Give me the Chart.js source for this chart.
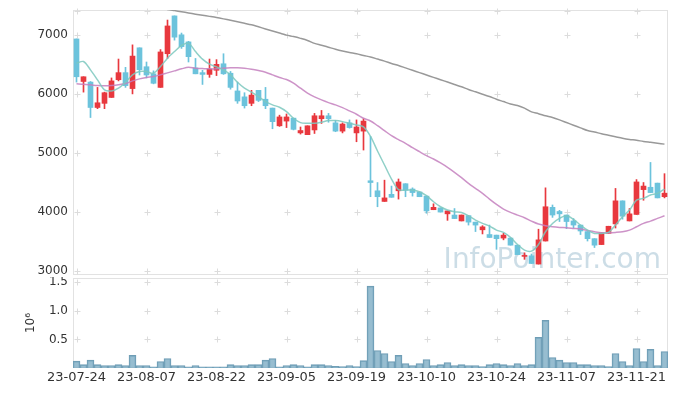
<!DOCTYPE html>
<html>
<head>
<meta charset="utf-8">
<script src="https://cdn.jsdelivr.net/npm/chart.js@4.4.1/dist/chart.umd.min.js"></script>
<style>
  body { margin: 0; background: #fff; }
  #wrap { position: relative; width: 677px; height: 396px; }
  canvas { position: absolute; left: 0; }
  #precio { top: 0; }
  #volumen { top: 277px; }
</style>
</head>
<body>
<div id="wrap">
  <canvas id="precio" width="677" height="276"></canvas>
  <canvas id="volumen" width="677" height="119"></canvas>
</div>
<script>
const fechas = [
  '23-07-24','23-07-25','23-07-26','23-07-27','23-07-28','23-07-31',
  '23-08-01','23-08-02','23-08-03','23-08-04','23-08-07','23-08-08','23-08-09','23-08-10','23-08-11',
  '23-08-14','23-08-16','23-08-17','23-08-18','23-08-21','23-08-22','23-08-23','23-08-24','23-08-25',
  '23-08-28','23-08-29','23-08-30','23-08-31','23-09-01','23-09-04','23-09-05','23-09-06','23-09-07',
  '23-09-08','23-09-11','23-09-12','23-09-13','23-09-14','23-09-15','23-09-18','23-09-19','23-09-20',
  '23-09-21','23-09-22','23-09-25','23-09-26','23-09-27','23-10-04','23-10-05','23-10-06','23-10-10',
  '23-10-11','23-10-12','23-10-13','23-10-16','23-10-17','23-10-18','23-10-19','23-10-20','23-10-23',
  '23-10-24','23-10-25','23-10-26','23-10-27','23-10-30','23-10-31','23-11-01','23-11-02','23-11-03',
  '23-11-06','23-11-07','23-11-08','23-11-09','23-11-10','23-11-13','23-11-14','23-11-15','23-11-16',
  '23-11-17','23-11-20','23-11-21','23-11-22','23-11-23','23-11-24','23-11-27'
];

const apertura = [6930,6210,6200,5770,5840,5940,6240,6360,6090,6780,6460,6340,6110,6680,7320,7000,6880,6440,6360,6330,
  6400,6510,6350,6050,5950,5840,6060,5910,5760,5460,5540,5590,5340,5310,5390,5580,5630,5510,5370,5510,
  5340,5370,4530,4360,4180,4300,4360,4480,4390,4340,4270,4040,4070,3970,3950,3850,3940,3830,3700,3620,
  3610,3560,3560,3440,3250,3260,3120,3510,4080,4010,3950,3850,3780,3670,3550,3450,3640,3800,4190,3850,
  3960,4380,4420,4490,4260];
const maximo = [6930,6290,6210,6110,6030,6270,6590,6450,6830,6780,6540,6390,6750,7250,7320,7030,6890,6600,6400,6590,
  6580,6680,6380,6200,6020,6060,6060,6110,5760,5640,5660,5590,5440,5460,5670,5720,5670,5550,5510,5560,
  5560,5580,5280,4500,4540,4440,4560,4480,4410,4340,4270,4140,4070,4020,4060,3950,3940,3830,3770,3780,
  3610,3640,3560,3440,3310,3290,3710,4410,4120,4030,3950,3890,3780,3670,3550,3650,3760,4400,4190,4060,
  4550,4500,4840,4490,4650];
const minimo = [6200,6030,5600,5750,5750,5940,6220,6110,6000,6320,6270,6170,6110,6600,6910,6770,6540,6340,6160,6280,
  6310,6330,6080,5840,5760,5800,5870,5750,5410,5450,5430,5390,5320,5310,5330,5500,5520,5360,5340,5420,
  5190,5050,4260,4090,4180,4250,4220,4260,4270,4260,3980,4040,4000,3860,3890,3850,3780,3670,3630,3570,
  3370,3530,3440,3280,3200,3130,3120,3510,3910,3840,3720,3730,3620,3510,3400,3450,3640,3730,3880,3850,
  3960,4200,4330,4240,4240];
const cierre = [6290,6290,5770,5850,6020,6220,6360,6140,6640,6410,6320,6180,6710,7150,6960,6800,6630,6340,6330,6420,
  6500,6340,6110,5880,5800,5980,5890,5800,5530,5610,5610,5400,5380,5460,5630,5630,5580,5370,5490,5430,
  5440,5540,4500,4260,4240,4250,4510,4370,4330,4260,4020,4080,4000,4020,3890,3950,3830,3780,3750,3570,
  3550,3610,3440,3280,3260,3130,3530,4090,3950,3970,3840,3780,3680,3550,3440,3650,3760,4190,3930,3970,
  4510,4440,4330,4240,4320];

// medias moviles
const media5 = [6520,6548,6407,6237,6068,6051,6097,6198,6322,6378,6378,6350,6463,6605,6717,6819,6859,6717,6588,6503,
  6458,6407,6322,6198,6097,6029,5954,5870,5814,5774,5700,5588,5514,5503,5503,5520,5548,5548,5531,5503,
  5475,5441,5281,5034,4797,4559,4380,4373,4373,4344,4277,4175,4090,4034,4006,3994,3937,3864,3808,3763,
  3695,3656,3571,3452,3356,3339,3452,3667,3808,3893,3937,3876,3780,3695,3639,3639,3656,3780,3921,4034,
  4203,4232,4288,4316,4390];
const media20 = [6170,6164,6153,6141,6136,6141,6153,6175,6220,6254,6277,6294,6322,6356,6390,6424,6452,6435,6429,6424,
  6424,6435,6441,6441,6435,6418,6395,6367,6322,6277,6243,6181,6096,6012,5949,5898,5853,5814,5768,5712,
  5656,5588,5542,5463,5378,5293,5226,5164,5090,5022,4955,4898,4831,4757,4673,4582,4486,4401,4316,4220,
  4130,4051,3994,3949,3904,3847,3797,3768,3751,3740,3734,3723,3712,3689,3667,3650,3650,3656,3667,3695,
  3751,3808,3847,3893,3937];
const media60 = [7720,7700,7680,7660,7640,7620,7590,7570,7550,7530,7510,7490,7460,7430,7410,7390,7370,7350,7330,7312,
  7293,7270,7245,7220,7195,7169,7135,7100,7065,7030,6995,6970,6940,6905,6855,6825,6790,6755,6725,6700,
  6680,6650,6625,6590,6555,6515,6480,6440,6400,6360,6320,6280,6240,6200,6160,6120,6075,6035,5995,5955,
  5910,5870,5830,5805,5760,5695,5665,5630,5600,5560,5515,5470,5425,5380,5355,5325,5300,5275,5250,5230,
  5215,5195,5180,5165,5150];

const volumen = [120000,60000,137000,60000,44000,44000,60000,44000,220000,44000,44000,20000,114000,167000,44000,44000,20000,44000,20000,20000,
  20000,20000,60000,44000,44000,60000,60000,137000,167000,20000,44000,60000,44000,20000,60000,60000,44000,30000,25000,44000,
  25000,130000,1435000,307000,254000,114000,220000,79000,44000,79000,149000,44000,60000,96000,44000,60000,44000,44000,25000,60000,
  79000,60000,44000,79000,44000,60000,535000,833000,184000,137000,96000,96000,60000,60000,44000,44000,25000,254000,114000,44000,
  342000,114000,325000,44000,289000];

const ticksPrecio = [3000, 4000, 5000, 6000, 7000];
const ticksVolumen = [500000, 1000000, 1500000];

const ROJO = '#e8383e';
const AZUL = '#6cc3dc';
const FUENTE = 'DejaVu Sans';

const colores = cierre.map((c, i) => c >= apertura[i] ? ROJO : AZUL);
const cuerpos = cierre.map((c, i) => [apertura[i], c]);
const mechas = maximo.map((h, i) => [minimo[i], h]);

// eje Y de ancho fijo y sin relleno extra arriba/abajo
function ejeFijo(s) {
  s.width = 73;
  s.paddingTop = 0;
  s.paddingBottom = 0;
}

// marco, cruces de la rejilla y marca de agua
const marcoPlugin = {
  id: 'marco',
  beforeDatasetsDraw(chart, args, opts) {
    const { ctx, chartArea: a, scales } = chart;
    ctx.save();
    if (opts.marca) {
      ctx.font = '28px "' + FUENTE + '"';
      ctx.fillStyle = 'rgba(170,198,214,0.6)';
      ctx.textAlign = 'right';
      ctx.textBaseline = 'alphabetic';
      ctx.fillText(opts.marca, 661, 268);
    }
    ctx.strokeStyle = '#e2e2e2';
    ctx.lineWidth = 1;
    ctx.strokeRect(a.left + 0.5, a.top + 0.5, a.right - a.left - 1, a.bottom - a.top - 1);
    const ys = opts.valores.map(v => scales.y.getPixelForValue(v));
    if (opts.borde) ys.push(a.top + 1);
    ctx.strokeStyle = '#dcdcdc';
    fechas.forEach((f, i) => {
      if (i % 10 !== 0) return;
      const px = Math.round(scales.x.getPixelForValue(i)) + 0.5;
      ys.forEach(y => {
        const py = Math.round(y) + 0.5;
        ctx.beginPath();
        ctx.moveTo(px - 3, py); ctx.lineTo(px + 3, py);
        ctx.moveTo(px, py - 3); ctx.lineTo(px, py + 3);
        ctx.stroke();
      });
    });
    ctx.restore();
  }
};

const fuenteTicks = { family: FUENTE, size: 12 };

new Chart(document.getElementById('precio'), {
  type: 'bar',
  data: {
    labels: fechas,
    datasets: [
      { type: 'line', data: media5, borderColor: 'rgba(125,200,190,0.85)', borderWidth: 1.5, pointRadius: 0, tension: 0.3, order: 0 },
      { type: 'line', data: media20, borderColor: 'rgba(196,128,190,0.85)', borderWidth: 1.5, pointRadius: 0, tension: 0.3, order: 0 },
      { type: 'line', data: media60, borderColor: '#999999', borderWidth: 1.5, pointRadius: 0, tension: 0.3, order: 0 },
      { data: cuerpos, backgroundColor: colores, barThickness: 5, minBarLength: 1, grouped: false, order: 1 },
      { data: mechas, backgroundColor: colores, barThickness: 1, grouped: false, order: 2 }
    ]
  },
  options: {
    responsive: false,
    animation: false,
    layout: { padding: { top: 10, right: 9, bottom: 1, left: 0 } },
    plugins: {
      legend: { display: false },
      tooltip: { enabled: false },
      marco: { valores: ticksPrecio, borde: true, marca: 'InfoPointer.com' }
    },
    scales: {
      x: { display: false, offset: true, grid: { display: false } },
      y: {
        min: 2935,
        max: 7420,
        afterFit: ejeFijo,
        afterBuildTicks: s => { s.ticks = ticksPrecio.map(v => ({ value: v })); },
        grid: { display: false, drawTicks: false },
        border: { display: false },
        ticks: { padding: 5, color: '#333', font: fuenteTicks, callback: v => String(v) }
      }
    }
  },
  plugins: [marcoPlugin]
});

new Chart(document.getElementById('volumen'), {
  type: 'bar',
  data: {
    labels: fechas,
    datasets: [{
      data: volumen,
      backgroundColor: 'rgba(125,172,196,0.8)',
      borderColor: '#6f9db5',
      borderWidth: 1,
      barPercentage: 1,
      categoryPercentage: 1
    }]
  },
  options: {
    responsive: false,
    animation: false,
    layout: { padding: { top: 1, right: 9, bottom: 0, left: 0 } },
    plugins: {
      legend: { display: false },
      tooltip: { enabled: false },
      marco: { valores: ticksVolumen, borde: false }
    },
    scales: {
      x: {
        offset: true,
        grid: { display: false, drawTicks: false },
        border: { display: false },
        afterFit: s => { s.height = 28; },
        ticks: {
          autoSkip: false,
          maxRotation: 0,
          padding: 2,
          color: '#333',
          font: { family: FUENTE, size: 13 },
          callback: (v, i) => i % 10 === 0 ? fechas[i] : ''
        }
      },
      y: {
        min: 0,
        max: 1576000,
        afterFit: ejeFijo,
        afterBuildTicks: s => { s.ticks = ticksVolumen.map(v => ({ value: v })); },
        grid: { display: false, drawTicks: false },
        border: { display: false },
        ticks: { padding: 5, color: '#333', font: fuenteTicks, callback: v => (v / 1e6).toFixed(1) },
        title: { display: true, text: '10⁶', color: '#333', font: fuenteTicks, padding: { top: 24, bottom: 0 } }
      }
    }
  },
  plugins: [marcoPlugin]
});
</script>
</body>
</html>
